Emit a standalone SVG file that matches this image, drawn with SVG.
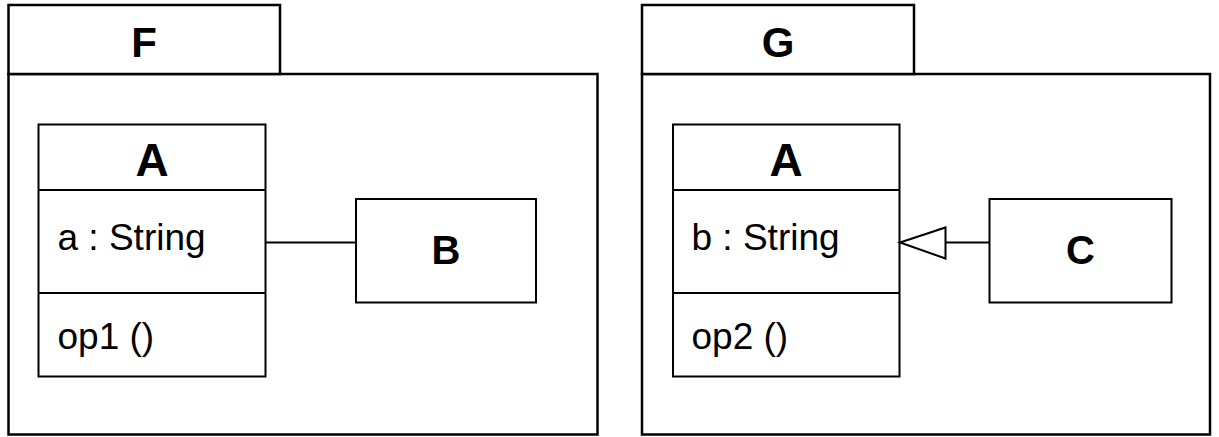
<svg xmlns="http://www.w3.org/2000/svg" width="1219" height="437" viewBox="0 0 1219 437">
<style>
.pkg{fill:#fff;stroke:#000;stroke-width:2.5}
.cls{fill:#fff;stroke:#000;stroke-width:2}
.ln{fill:none;stroke:#000;stroke-width:2}
.t{font-family:"Liberation Sans",Arial,sans-serif;fill:#000}
.b{font-weight:bold;text-anchor:middle}
.n{font-size:37px}
</style>
<rect width="1219" height="437" fill="#fff"/>
<g id="pkgF">
<rect class="pkg" x="8.5" y="74" width="589" height="360.5"/>
<rect class="pkg" x="8.5" y="5" width="271.5" height="69"/>
<text class="t b" x="144" y="56.5" font-size="42">F</text>
</g>
<g id="pkgG">
<rect class="pkg" x="642" y="74" width="568" height="360.5"/>
<rect class="pkg" x="642" y="5" width="272" height="69"/>
<text class="t b" x="778" y="56.5" font-size="42">G</text>
</g>
<g id="classA_F">
<rect class="cls" x="38.5" y="124.5" width="227" height="252"/>
<line class="ln" x1="38.5" y1="190" x2="265.5" y2="190"/>
<line class="ln" x1="38.5" y1="293" x2="265.5" y2="293"/>
<text class="t b" x="152" y="176" font-size="46">A</text>
<text class="t n" x="57.5" y="250">a : String</text>
<text class="t n" x="57.5" y="349">op1 ()</text>
</g>
<g id="classB">
<rect class="cls" x="356" y="199" width="180" height="103.5"/>
<text class="t b" x="446" y="263.5" font-size="40">B</text>
</g>
<g id="classA_G">
<rect class="cls" x="673" y="124.5" width="226.5" height="252"/>
<line class="ln" x1="673" y1="190" x2="899.5" y2="190"/>
<line class="ln" x1="673" y1="293" x2="899.5" y2="293"/>
<text class="t b" x="786" y="176" font-size="46">A</text>
<text class="t n" x="691.5" y="250">b : String</text>
<text class="t n" x="691.5" y="349">op2 ()</text>
</g>
<g id="classC">
<rect class="cls" x="989.5" y="199" width="182" height="103.5"/>
<text class="t b" x="1080.5" y="263.5" font-size="40">C</text>
</g>
<g id="connectors">
<line class="ln" x1="265.5" y1="242.5" x2="356" y2="242.5"/>
<line class="ln" x1="945.5" y1="242.5" x2="989.5" y2="242.5"/>
<polygon class="ln" points="900,242.5 945.5,227.5 945.5,258.5"/>
</g>
</svg>
